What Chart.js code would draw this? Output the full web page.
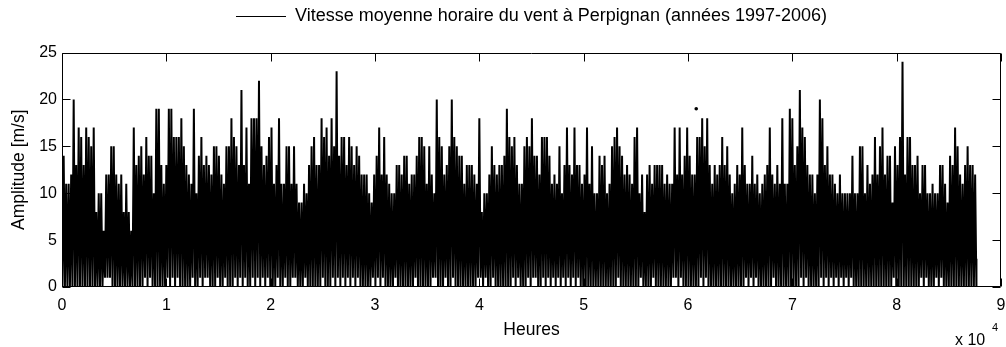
<!DOCTYPE html>
<html lang="fr">
<head>
<meta charset="utf-8">
<title>Vitesse moyenne horaire du vent à Perpignan (1997-2006)</title>
<script src="https://cdn.jsdelivr.net/npm/chart.js@4.4.1/dist/chart.umd.min.js"></script>
<style>
  html, body { margin: 0; padding: 0; background: #ffffff; }
  #zone { width: 1006px; height: 347px; }
</style>
</head>
<body>
<div id="zone"><canvas id="graphique" width="1006" height="347"></canvas></div>
<script>
// Vitesse horaire du vent, regroupée par blocs de 240 heures (10 jours) :
// pour chaque bloc, la vitesse maximale relevée (m/s).
const DUREE_BLOC = 240;
const derniereHeure = 87647;

const maxParBloc = [
  14,11,11,12,20,13,17,16,13,17,
  16,15,17, 8,10,10, 6,12,12,15,
  15,12,11,12, 8,11, 8, 6,17,13,
  14,15,12,16,14,14,10,19,19,13,
  11,13,19,19,16,16,16,18,15,13,
  12,11,19,10,14,16,13,14,13,12,
  15,15,14,12,11,15,15,18,16,15,
  13,21,13,17,11,18,18,18,22,15,
  13,14,16,17,11,13,18,11,11,15,
  15,11,15,11, 9, 9,11,10,13,15,
  16,13,13,18,16,17,14,18,15,23,
  14,16,16,13,16,15,13,15,14,12,
  12,12,10, 9,12,14,17,12,16,12,
  11,10,10,13,13,12,14,14,11,12,
  12,14,16,16,15,11,15,12,10,20,
  16,15,12,13,15,20,16,15,14,14,
  11,13,13,13,12,11,18, 8,10,10,
  12,15,13,12,13,13,14,19,16,15,
  16,13,11,11,15,16,15,18,14,14,
  12,16,16,16,14,11,12,11,15,10,
  13,17,13,12,17,13,13,11,12,17,
  11,15,10,10,14,13,14,10,11,15,
  16,17,15,14,12,13,12,11,16,17,
  10,12, 8,12,13,11,13,13,13,13,
  11,12,11,11,17,12,17,12,14,17,
  14,12,12,16,16,18,15,18,13,11,
  13,12,13,16,13,15,12,10,11,13,
  12,17,13,11,11,14,11,12,10,11,
  12,13,17,12,11,13,11,18,11,11,
  19,18,13,15,21,17,16,13,12,12,
  10,12,20,18,13,15,12,12,11,10,
  12,10,10,10,10,14,10,10,15,15,
  10,13,11,12,16,12,15,17,12,14,
  14, 9,15,13,16,24,12,16,16,13,
  13,14,10,13,13,10,10,11,10,10,
  13,13,11, 9,14,13,17,15,12,11,
  13,15,13,13,12, 3
];

// Blocs dont la vitesse minimale est de 1 m/s (0 m/s pour tous les autres)
const blocsMinimumUn = [
  17,18,19,33,35,42,44,46,52,55,57,58,62,65,69,71,73,76,78,80,82,86,89,92,93,
  97,104,108,110,112,114,116,118,124,126,128,133,141,148,149,153,156,166,167,
  169,172,180,182,186,188,189,192,194,196,198,200,202,204,206,222,231,236,244,
  245,247,255,257,273,275,277,284,295,297,303,305,307,309,311,313,315,332,343,
  345,349,351
];

// Relevé isolé
const heurePointIsole = 60790;
const valeurPointIsole = 19;

// Graduations des axes
const graduationsX = [0, 10000, 20000, 30000, 40000, 50000, 60000, 70000, 80000, 90000];
const etiquettesX = ['0', '1', '2', '3', '4', '5', '6', '7', '8', '9'];
const graduationsY = [0, 5, 10, 15, 20, 25];
const etiquettesY = ['0', '5', '10', '15', '20', '25'];

const POLICE = "'Liberation Sans', Arial, Helvetica, sans-serif";

// Série tracée : minimum puis maximum de chaque bloc
const serie = [];
maxParBloc.forEach((vmax, k) => {
  const debut = k * DUREE_BLOC;
  const vmin = blocsMinimumUn.includes(k) ? 1 : 0;
  serie.push({ x: Math.min(debut + 40, derniereHeure), y: vmin });
  serie.push({ x: Math.min(debut + 160, derniereHeure), y: vmax });
});

// Cadre fermé avec graduations tournées vers l'intérieur, et facteur d'échelle x 10^4
const cadreAxes = {
  id: 'cadreAxes',
  afterDatasetsDraw(chart) {
    const { ctx, chartArea: a, scales } = chart;
    const sx = scales.x, sy = scales.y;
    const L = 8;
    const g = Math.round(a.left) + 0.5;
    const d = Math.round(a.right) - 0.5;
    const h = Math.round(a.top) + 0.5;
    const b = Math.round(a.bottom) - 0.5;
    ctx.save();
    ctx.strokeStyle = '#000000';
    ctx.lineWidth = 1;
    ctx.beginPath();
    ctx.rect(g, h, d - g, b - h);
    sx.ticks.forEach(t => {
      const px = Math.round(sx.getPixelForValue(t.value)) + 0.5;
      ctx.moveTo(px, b); ctx.lineTo(px, b - L);
      ctx.moveTo(px, h); ctx.lineTo(px, h + L);
    });
    sy.ticks.forEach(t => {
      const py = Math.round(sy.getPixelForValue(t.value)) + 0.5;
      ctx.moveTo(g, py); ctx.lineTo(g + L, py);
      ctx.moveTo(d, py); ctx.lineTo(d - L, py);
    });
    ctx.stroke();

    ctx.fillStyle = '#000000';
    ctx.textAlign = 'left';
    ctx.textBaseline = 'alphabetic';
    ctx.font = '16px ' + POLICE;
    ctx.fillText('x 10', a.right - 46, 345);
    ctx.font = '11px ' + POLICE;
    ctx.fillText('4', a.right - 9, 331);
    ctx.restore();
  }
};

new Chart(document.getElementById('graphique'), {
  type: 'line',
  data: {
    datasets: [
      {
        label: 'Vitesse moyenne horaire du vent à Perpignan (années 1997-2006)',
        data: serie,
        borderColor: '#000000',
        backgroundColor: '#000000',
        borderWidth: 2,
        borderJoinStyle: 'bevel',
        pointRadius: 0,
        pointHoverRadius: 0,
        pointStyle: 'line',
        tension: 0,
        fill: false
      },
      {
        label: 'point isolé',
        data: [{ x: heurePointIsole, y: valeurPointIsole }],
        showLine: false,
        pointRadius: 1.8,
        pointHoverRadius: 0,
        pointBorderWidth: 0,
        pointBackgroundColor: '#000000',
        borderColor: '#000000'
      }
    ]
  },
  options: {
    responsive: false,
    animation: false,
    devicePixelRatio: 1,
    events: [],
    layout: { padding: { left: 0, right: 5, top: 0, bottom: 0 } },
    plugins: {
      legend: {
        display: true,
        position: 'top',
        fullSize: false,
        labels: {
          filter: item => item.datasetIndex === 0,
          generateLabels: chart => [{
            text: chart.data.datasets[0].label,
            datasetIndex: 0,
            strokeStyle: '#000000',
            fillStyle: '#000000',
            fontColor: '#000000',
            lineWidth: 1,
            pointStyle: 'line',
            hidden: false
          }],
          usePointStyle: true,
          pointStyle: 'line',
          pointStyleWidth: 50,
          padding: 7.5,
          color: '#000000',
          font: { family: POLICE, size: 18 }
        }
      },
      tooltip: { enabled: false }
    },
    scales: {
      x: {
        type: 'linear',
        position: 'bottom',
        min: 0,
        max: 90000,
        afterBuildTicks: s => { s.ticks = graduationsX.map(v => ({ value: v })); },
        ticks: {
          autoSkip: false,
          maxRotation: 0,
          padding: 9,
          color: '#000000',
          font: { family: POLICE, size: 16 },
          callback: v => etiquettesX[graduationsX.indexOf(v)]
        },
        grid: { display: false, drawTicks: false },
        border: { display: false },
        title: {
          display: true,
          text: 'Heures',
          color: '#000000',
          font: { family: POLICE, size: 17.5 },
          padding: { top: 0, bottom: 6 }
        },
        afterFit: s => { s.height = 60; s.paddingLeft = 0; s.paddingRight = 0; }
      },
      xHaut: {
        type: 'linear',
        position: 'top',
        display: true,
        ticks: { display: false },
        grid: { display: false, drawTicks: false },
        border: { display: false },
        afterFit: s => { s.height = 17; }
      },
      y: {
        type: 'linear',
        position: 'left',
        min: 0,
        max: 25,
        afterBuildTicks: s => { s.ticks = graduationsY.map(v => ({ value: v })); },
        ticks: {
          padding: 5,
          color: '#000000',
          font: { family: POLICE, size: 16 },
          callback: v => etiquettesY[graduationsY.indexOf(v)]
        },
        grid: { display: false, drawTicks: false },
        border: { display: false },
        title: {
          display: true,
          text: 'Amplitude [m/s]',
          color: '#000000',
          font: { family: POLICE, size: 17.5 },
          padding: { top: 9, bottom: 0 }
        },
        afterFit: s => { s.width = 62; s.paddingTop = 0; s.paddingBottom = 0; }
      }
    }
  },
  plugins: [cadreAxes]
});
</script>
</body>
</html>
